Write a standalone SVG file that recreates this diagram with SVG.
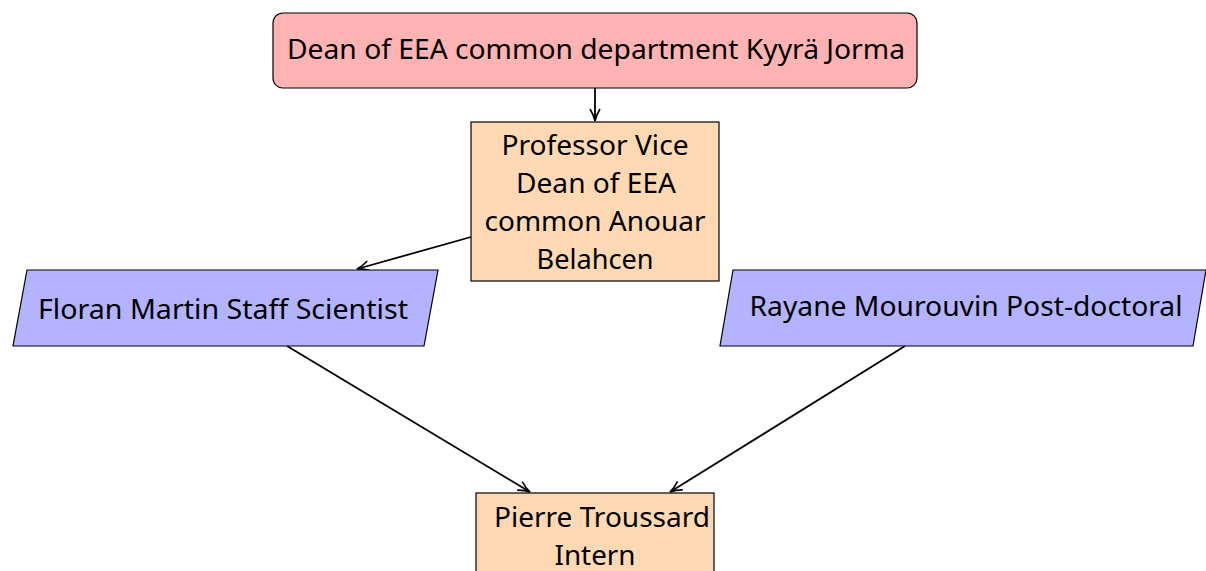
<svg xmlns="http://www.w3.org/2000/svg" width="1206" height="571" viewBox="0 0 1206 571">
<defs>
<style>
.n{stroke:#000;stroke-width:1.2}
.pink{fill:#FFB3B3}
.org{fill:#FFD9B3}
.blue{fill:#B3B3FF}
text{font-family:"Noto Sans","DejaVu Sans",sans-serif;font-size:27px;fill:#000;text-anchor:middle}
.c{stroke:#000;stroke-width:1.8;fill:none;marker-end:url(#ah)}
</style>
<marker id="ah" viewBox="0 0 14 12" refX="13" refY="6" markerWidth="14" markerHeight="12" markerUnits="userSpaceOnUse" orient="auto">
<path d="M1,1 Q7,4.8 13,6 Q7,7.2 1,11" fill="none" stroke="#000" stroke-width="1.6"/>
</marker>
</defs>
<rect width="1206" height="571" fill="#fff"/>
<g id="connectors">
<line class="c" x1="595" y1="88" x2="595" y2="121"/>
<line class="c" x1="471" y1="237" x2="357" y2="269"/>
<line class="c" x1="287" y1="346" x2="530" y2="492"/>
<line class="c" x1="905" y1="346" x2="670" y2="492"/>
</g>
<g id="dean">
<rect class="n pink" x="273" y="13" width="644" height="75" rx="10"/>
<text x="596" y="59" textLength="618" lengthAdjust="spacingAndGlyphs">Dean of EEA common department Kyyrä Jorma</text>
</g>
<g id="vicedean">
<rect class="n org" x="471" y="122" width="248" height="159"/>
<text x="595" y="155" textLength="187" lengthAdjust="spacingAndGlyphs">Professor Vice</text>
<text x="596" y="193" textLength="160" lengthAdjust="spacingAndGlyphs">Dean of EEA</text>
<text x="595" y="231" textLength="221" lengthAdjust="spacingAndGlyphs">common Anouar</text>
<text x="595" y="269" textLength="117" lengthAdjust="spacingAndGlyphs">Belahcen</text>
</g>
<g id="floran">
<polygon class="n blue" points="27,270 438,270 424,346 13,346"/>
<text x="223" y="319" textLength="370" lengthAdjust="spacingAndGlyphs">Floran Martin Staff Scientist</text>
</g>
<g id="rayane">
<polygon class="n blue" points="733,270 1206,270 1193,346 720,346"/>
<text x="966" y="316" textLength="433" lengthAdjust="spacingAndGlyphs">Rayane Mourouvin Post-doctoral</text>
</g>
<g id="pierre">
<rect class="n org" x="476" y="493" width="238" height="90"/>
<text x="602" y="527" textLength="216" lengthAdjust="spacingAndGlyphs">Pierre Troussard</text>
<text x="595" y="565" textLength="81" lengthAdjust="spacingAndGlyphs">Intern</text>
</g>
</svg>
